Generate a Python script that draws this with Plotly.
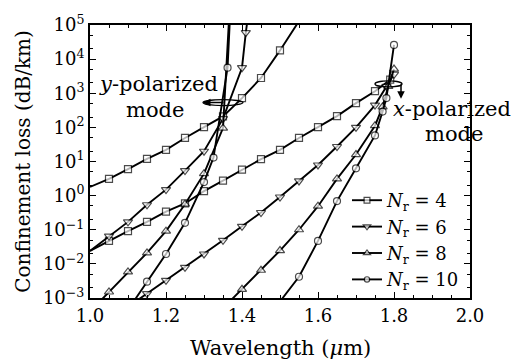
import plotly.graph_objects as go

# ---------------- data (wavelength in um, confinement loss in dB/km) ----------------
nr_labels = ["4", "6", "8", "10"]

# y-polarized mode
wl_y4 = [1.00, 1.05, 1.10, 1.15, 1.20, 1.25, 1.30, 1.35, 1.40, 1.45, 1.50, 1.55]
loss_y4 = [1.8, 3.1, 6.0, 12, 22, 49, 102, 210, 720, 2800, 18000, 130000]

wl_y6 = [1.00, 1.05, 1.10, 1.15, 1.20, 1.25, 1.30, 1.35, 1.40, 1.41, 1.42]
loss_y6 = [0.024, 0.065, 0.17, 0.54, 1.5, 5.4, 20, 180, 5600, 60000, 400000]

wl_y8 = [1.00, 1.05, 1.10, 1.15, 1.20, 1.25, 1.30, 1.35, 1.37]
loss_y8 = [0.0004, 0.0015, 0.0058, 0.021, 0.091, 0.56, 4.4, 95, 1000000]

wl_y10 = [1.10, 1.15, 1.20, 1.25, 1.30, 1.325, 1.362, 1.37]
loss_y10 = [0.00045, 0.0030, 0.0195, 0.16, 2.5, 13, 5600, 400000]

# x-polarized mode
wl_x4 = [1.00, 1.05, 1.10, 1.15, 1.20, 1.25, 1.30, 1.35, 1.40, 1.45, 1.50, 1.55,
         1.60, 1.65, 1.70, 1.75, 1.79]
loss_x4 = [0.024, 0.047, 0.091, 0.17, 0.34, 0.59, 1.35, 2.75, 5.8, 11.7, 22, 49,
           102, 214, 513, 1150, 2500]

wl_x6 = [1.10, 1.15, 1.20, 1.25, 1.30, 1.35, 1.40, 1.45, 1.50, 1.55, 1.60, 1.65,
         1.70, 1.75, 1.78, 1.80]
loss_x6 = [0.00055, 0.00135, 0.0033, 0.0079, 0.0195, 0.049, 0.126, 0.32, 0.91, 2.7,
           7.9, 27.5, 100, 450, 1600, 3600]

wl_x8 = [1.35, 1.40, 1.45, 1.50, 1.55, 1.60, 1.65, 1.70, 1.75, 1.77, 1.785, 1.80]
loss_x8 = [0.0005, 0.0018, 0.0065, 0.0245, 0.10, 0.49, 3.1, 16, 112, 400, 1600, 5100]

wl_x10 = [1.50, 1.55, 1.60, 1.65, 1.70, 1.75, 1.77, 1.78, 1.80]
loss_x10 = [0.00079, 0.0042, 0.047, 0.69, 6.3, 58, 290, 720, 26000]

x_ticks = [1.0, 1.2, 1.4, 1.6, 1.8, 2.0]
y_exponents = [-3, -2, -1, 0, 1, 2, 3, 4, 5]

# ---------------- styling ----------------
FONT = "DejaVu Serif"
symbols = ["square", "triangle-down", "triangle-up", "circle"]
msizes = [7, 8, 8, 7]

ypol = [(wl_y4, loss_y4), (wl_y6, loss_y6), (wl_y8, loss_y8), (wl_y10, loss_y10)]
xpol = [(wl_x4, loss_x4), (wl_x6, loss_x6), (wl_x8, loss_x8), (wl_x10, loss_x10)]


def sizes(xs, ys, s):
    # hide markers that sit on the frame or outside the plotted window
    return [s if (x > 1.001 and 1e-3 <= y <= 1e5) else 0 for x, y in zip(xs, ys)]


fig = go.Figure()
for i, lab in enumerate(nr_labels):
    for j, (xs, ys) in enumerate([ypol[i], xpol[i]]):
        fig.add_trace(go.Scatter(
            x=xs, y=ys, mode="lines+markers",
            name="<i>N</i><sub>r</sub> = " + lab,
            legendgroup=lab, showlegend=(j == 0),
            line=dict(color="black", width=1.9),
            marker=dict(symbol=symbols[i], size=sizes(xs, ys, msizes[i]),
                        color="white", line=dict(color="black", width=1.2)),
        ))

L, R, T, B = 90, 48, 20, 62
W, H = 518, 360
pw, ph = W - L - R, H - T - B


def px(x):
    return (x - L) / pw


def py(y):
    return (H - B - y) / ph


shapes = [
    dict(type="circle", xref="paper", yref="paper", x0=px(203), x1=px(243),
         y0=py(102), y1=py(96), line=dict(color="black", width=1.3)),
    dict(type="circle", xref="paper", yref="paper", x0=px(375), x1=px(402),
         y0=py(83), y1=py(77), line=dict(color="black", width=1.3)),
]

txt = dict(family=FONT, size=21, color="black")
annos = [
    dict(x=px(158), y=py(80), xref="paper", yref="paper", text="<i>y</i>-polarized",
         xanchor="center", yanchor="middle", showarrow=False, font=txt),
    dict(x=px(155), y=py(107), xref="paper", yref="paper", text="mode",
         xanchor="center", yanchor="middle", showarrow=False, font=txt),
    dict(x=px(452), y=py(106), xref="paper", yref="paper", text="<i>x</i>-polarized",
         xanchor="center", yanchor="middle", showarrow=False, font=txt),
    dict(x=px(454), y=py(131), xref="paper", yref="paper", text="mode",
         xanchor="center", yanchor="middle", showarrow=False, font=txt),
    dict(x=px(203), y=py(99), xref="paper", yref="paper", text="", showarrow=True,
         ax=22, ay=0, arrowhead=2, arrowsize=1, arrowwidth=1.5, arrowcolor="black"),
    dict(x=px(401), y=py(95), xref="paper", yref="paper", text="", showarrow=True,
         ax=0, ay=-16, arrowhead=2, arrowsize=1, arrowwidth=1.5, arrowcolor="black"),
    # x-axis title, placed below the tick labels as in the original figure
    dict(x=px(280), y=py(349), xref="paper", yref="paper", text="Wavelength (<i>μ</i>m)",
         xanchor="center", yanchor="middle", showarrow=False, font=txt),
]

fig.update_layout(
    width=W, height=H,
    margin=dict(l=L, r=R, t=T, b=B, pad=0),
    paper_bgcolor="white", plot_bgcolor="white",
    font=dict(family=FONT, size=18, color="black"),
    shapes=shapes, annotations=annos,
    legend=dict(x=px(347), y=py(298), xanchor="left", yanchor="bottom",
                bgcolor="rgba(0,0,0,0)", borderwidth=0,
                font=dict(family=FONT, size=18, color="black"),
                tracegroupgap=0, itemwidth=30),
    showlegend=True,
)

fig.update_xaxes(
    range=[1.0, 2.0], tickvals=x_ticks, ticktext=[f"{v:.1f}" for v in x_ticks],
    ticks="inside", ticklen=6, tickwidth=1.2, tickcolor="black",
    showline=True, linecolor="black", linewidth=2, mirror="allticks",
    showgrid=False, zeroline=False,
    minor=dict(dtick=0.05, tick0=1.0, ticks="inside", ticklen=3, tickwidth=1, tickcolor="black"),
    tickfont=dict(family=FONT, size=18),
)
fig.update_yaxes(
    type="log", range=[-3, 5],
    tickvals=[10.0 ** e for e in y_exponents],
    ticktext=[f"10<sup>{e}</sup>" if e >= 0 else f"10<sup>\u2212{-e}</sup>" for e in y_exponents],
    ticks="inside", ticklen=6, tickwidth=1.2, tickcolor="black",
    showline=True, linecolor="black", linewidth=2, mirror="allticks",
    showgrid=False, zeroline=False,
    minor=dict(ticks="inside", ticklen=3, tickwidth=1, tickcolor="black"),
    title=dict(text="Confinement loss (dB/km)", font=dict(family=FONT, size=20), standoff=7),
    tickfont=dict(family=FONT, size=18),
)

fig.write_html("out.html")
